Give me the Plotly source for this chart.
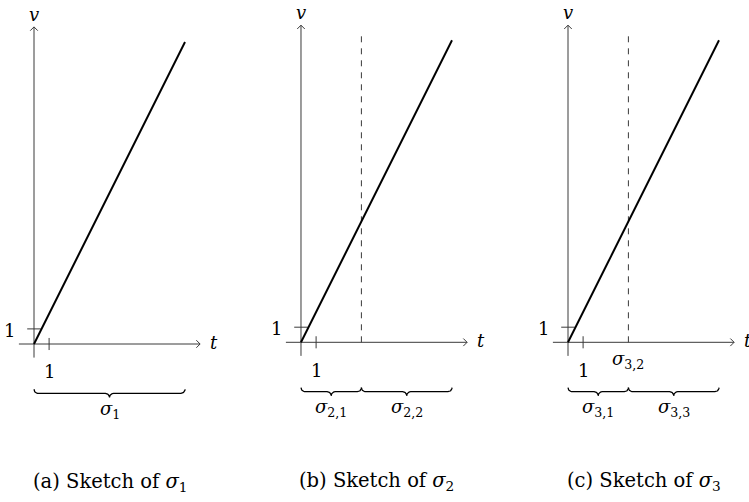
import numpy as np
import plotly.graph_objects as go

# ---------------- data ----------------
panel_letters = ["a", "b", "c"]
sigma_index = ["1", "2", "3"]
line_t = [0, 10]
line_v = [0, 20]
split_t = [None, 4, 4]
brace_edges = [[0, 10], [0, 4, 10], [0, 4, 10]]
brace_labels = [["1"], ["2,1", "2,2"], ["3,1", "3,3"]]
split_labels = [None, None, "3,2"]
tick_t = 1
tick_v = 1
axis_t = [-1, 11]
axis_v = [-0.9, 21]
dash_top = 20.6

# ---------------- geometry (pixels) ----------------
W, H = 749, 502
U = 15.1  # pixels per unit
origins = [(34, 344), (301, 342.3), (568, 342.3)]
FONT = "DejaVu Serif"
FS = 18
CAP_FS = 19.5
AX_COL = "#3a3a3a"


def m(sym, sub=None):
    t = "<i>" + sym + "</i>"
    if sub is not None:
        t += "<sub>" + sub + "</sub>"
    return t


def brace_path(x0, x1, y_top, r):
    xm = (x0 + x1) / 2
    pts_x, pts_y = [], []

    def arc(cx, cy, a0, a1):
        th = np.linspace(a0, a1, 12)
        pts_x.extend(cx + r * np.cos(th))
        pts_y.extend(cy + r * np.sin(th))

    arc(x0 + r, y_top, np.pi, 1.5 * np.pi)
    arc(xm - r, y_top - 2 * r, 0.5 * np.pi, 0.0)
    arc(xm + r, y_top - 2 * r, np.pi, 0.5 * np.pi)
    arc(x1 - r, y_top, 1.5 * np.pi, 2 * np.pi)
    return pts_x, pts_y


fig = go.Figure()
annotations = []
layout_axes = {}

for i, letter in enumerate(panel_letters):
    n = "" if i == 0 else str(i + 1)
    xa, ya = "x" + n, "y" + n
    ox, oy = origins[i]
    px0, px1 = i * W / 3, (i + 1) * W / 3
    layout_axes["xaxis" + n] = dict(
        domain=[i / 3, (i + 1) / 3], range=[(px0 - ox) / U, (px1 - ox) / U],
        visible=False, fixedrange=True, anchor=ya)
    layout_axes["yaxis" + n] = dict(
        domain=[0, 1], range=[-(H - oy) / U, oy / U],
        visible=False, fixedrange=True, anchor=xa)

    def add_line(xs, ys, color=AX_COL, width=1.0, dash=None):
        fig.add_trace(go.Scatter(
            x=xs, y=ys, mode="lines", xaxis=xa, yaxis=ya,
            line=dict(color=color, width=width, dash=dash),
            hoverinfo="skip", showlegend=False))

    # axes
    add_line(axis_t, [0, 0])
    add_line([0, 0], axis_v)
    a = 0.25
    add_line([axis_t[1] - a, axis_t[1], axis_t[1] - a], [a, 0, -a])
    add_line([-a, 0, a], [axis_v[1] - a, axis_v[1], axis_v[1] - a])
    # ticks
    add_line([tick_t, tick_t], [-0.4, 0.4])
    add_line([-0.45, 0.45], [tick_v, tick_v])
    # dashed split line
    if split_t[i] is not None:
        add_line([split_t[i], split_t[i]], [0, dash_top], dash="6px,6px")
    # main line
    add_line(line_t, line_v, color="black", width=2.0)

    def label(x, y, text, size=FS, **kw):
        annotations.append(dict(
            x=x, y=y, xref=xa, yref=ya, text=text, showarrow=False,
            font=dict(family=FONT, size=size, color="black"), **kw))

    # braces
    edges = brace_edges[i]
    for k in range(len(edges) - 1):
        bx, by = brace_path(edges[k], edges[k + 1], -3.0, 0.27)
        add_line(bx, by, color="black", width=1.3)
        label((edges[k] + edges[k + 1]) / 2, -4.35, m("σ", brace_labels[i][k]))
    if split_labels[i] is not None:
        label(split_t[i], -1.2, m("σ", split_labels[i]))

    label(tick_t, -1.85, "1")
    label(-1.6, 0.9, "1")
    label(0, 21.85, m("v"))
    label(axis_t[1] + 0.55, 0.1, m("t"), xanchor="left")
    label(5, -9.2, "(" + letter + ") Sketch of " + m("σ", sigma_index[i]), size=CAP_FS)

fig.update_layout(
    width=W, height=H, margin=dict(l=0, r=0, t=0, b=0),
    paper_bgcolor="white", plot_bgcolor="white",
    annotations=annotations, **layout_axes)

fig.write_html("out.html", config={"displayModeBar": False},
               post_script="document.body.style.margin='0';document.body.style.overflow='hidden';")
